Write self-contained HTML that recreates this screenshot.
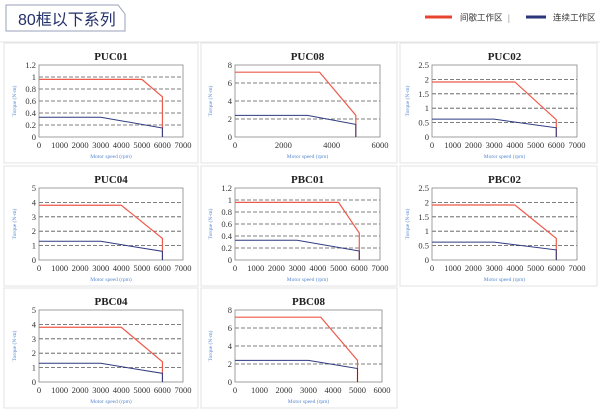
<!DOCTYPE html>
<html><head><meta charset="utf-8"><style>
body{margin:0;background:#fff;width:600px;height:413px;overflow:hidden;font-family:"Liberation Serif",serif}
</style></head><body>
<svg id="s" width="600" height="413" xmlns="http://www.w3.org/2000/svg">
<path d="M6,5 H118 L125,14 V31 H6 Z" fill="#fff" stroke="#9aa0b8" stroke-width="1"/>
<text x="18" y="25" font-family="'Liberation Sans','Noto Sans CJK SC',sans-serif" font-size="16" fill="#23306a">80框以下系列</text>
<line x1="425" y1="17" x2="452" y2="17" stroke="#e8432e" stroke-width="3"/>
<text x="460" y="20.5" font-family="'Liberation Sans','Noto Sans CJK SC',sans-serif" font-size="8.5" fill="#333">间歇工作区</text>
<text x="508" y="21" font-size="9" fill="#666">|</text>
<line x1="526" y1="17" x2="546" y2="17" stroke="#2a3478" stroke-width="3"/>
<text x="553" y="20.5" font-family="'Liberation Sans','Noto Sans CJK SC',sans-serif" font-size="8.5" fill="#333">连续工作区</text>
<line x1="0" y1="42" x2="600" y2="42" stroke="#e6e6e6"/>
</svg>
<script>
const s=document.getElementById('s');let h='';
const panels=[[4,198],[201,397],[400,597]];
const rows=[42,165,287];
const C=[
{t:'PUC01',ym:1.2,ys:.2,xm:7000,xs:1000,L:39,R:183,r:[[0,.96],[5000,.96],[6000,.67],[6000,0]],b:[[0,.33],[3000,.33],[6000,.15],[6000,0]]},
{t:'PUC08',ym:8,ys:2,xm:6000,xs:2000,L:235,R:380,r:[[0,7.2],[3500,7.2],[5000,2.4],[5000,0]],b:[[0,2.4],[3000,2.4],[5000,1.4],[5000,0]]},
{t:'PUC02',ym:2.5,ys:.5,xm:7000,xs:1000,L:432,R:577,r:[[0,1.91],[4000,1.91],[6000,.6],[6000,0]],b:[[0,.62],[3000,.62],[6000,.32],[6000,0]]},
{t:'PUC04',ym:5,ys:1,xm:7000,xs:1000,L:39,R:183,r:[[0,3.8],[4000,3.8],[6000,1.5],[6000,0]],b:[[0,1.3],[3000,1.3],[6000,.6],[6000,0]]},
{t:'PBC01',ym:1.2,ys:.2,xm:7000,xs:1000,L:235,R:380,r:[[0,.96],[5000,.96],[6000,.45],[6000,0]],b:[[0,.33],[3000,.33],[6000,.15],[6000,0]]},
{t:'PBC02',ym:2.5,ys:.5,xm:7000,xs:1000,L:432,R:577,r:[[0,1.91],[4000,1.91],[6000,.75],[6000,0]],b:[[0,.62],[3000,.62],[6000,.35],[6000,0]]},
{t:'PBC04',ym:5,ys:1,xm:7000,xs:1000,L:39,R:183,r:[[0,3.8],[4000,3.8],[6000,1.4],[6000,0]],b:[[0,1.3],[3000,1.3],[6000,.6],[6000,0]]},
{t:'PBC08',ym:8,ys:2,xm:6000,xs:1000,L:235,R:382,r:[[0,7.2],[3500,7.2],[5000,2.4],[5000,0]],b:[[0,2.4],[3000,2.4],[5000,1.5],[5000,0]]},
];
function f(v){return +v.toFixed(2)+''}
C.forEach((c,i)=>{
 const col=i%3,row=Math.floor(i/3),off=rows[row]-42;
 const [px1,px2]=panels[col];
 h+=`<rect x="${px1}" y="${rows[row]+1}" width="${px2-px1}" height="120" fill="#fff" stroke="#e3e3e3"/>`;
 const T=65+off,B=137+off,L=c.L,R=c.R;
 const X=x=>L+(R-L)*x/c.xm,Y=y=>B-(B-T)*y/c.ym;
 h+=`<text x="${(L+R)/2}" y="${T-5}" text-anchor="middle" font-weight="bold" font-size="11" fill="#222">${c.t}</text>`;
 for(let y=c.ys;y<c.ym-1e-6;y+=c.ys)h+=`<line x1="${L}" y1="${Y(y)}" x2="${R}" y2="${Y(y)}" stroke="#555" stroke-width=".8" stroke-dasharray="4,2"/>`;
 h+=`<rect x="${L}" y="${T}" width="${R-L}" height="${B-T}" fill="none" stroke="#888" stroke-width=".8"/>`;
 for(let y=0;y<=c.ym+1e-6;y+=c.ys)h+=`<text x="${L-3}" y="${Y(y)+3}" text-anchor="end" font-size="8.5" fill="#333">${f(y)}</text>`;
 for(let x=0;x<=c.xm;x+=c.xs)h+=`<text x="${X(x)}" y="${B+11}" text-anchor="middle" font-size="8.5" fill="#333">${x}</text>`;
 h+=`<text x="${(L+R)/2}" y="${B+21}" text-anchor="middle" font-size="5.5" fill="#5a8ad0">Motor speed (rpm)</text>`;
 h+=`<text transform="translate(${L-23},${(T+B)/2}) rotate(-90)" text-anchor="middle" font-size="5.5" fill="#5a8ad0">Torque (N-m)</text>`;
 h+=`<polyline points="${c.r.map(p=>X(p[0])+','+Y(p[1])).join(' ')}" fill="none" stroke="#ee5a4a" stroke-width="1.2"/>`;
 h+=`<polyline points="${c.b.map(p=>X(p[0])+','+Y(p[1])).join(' ')}" fill="none" stroke="#2f3a80" stroke-width="1"/>`;
});
s.insertAdjacentHTML('beforeend',h);
</script>
</body></html>
